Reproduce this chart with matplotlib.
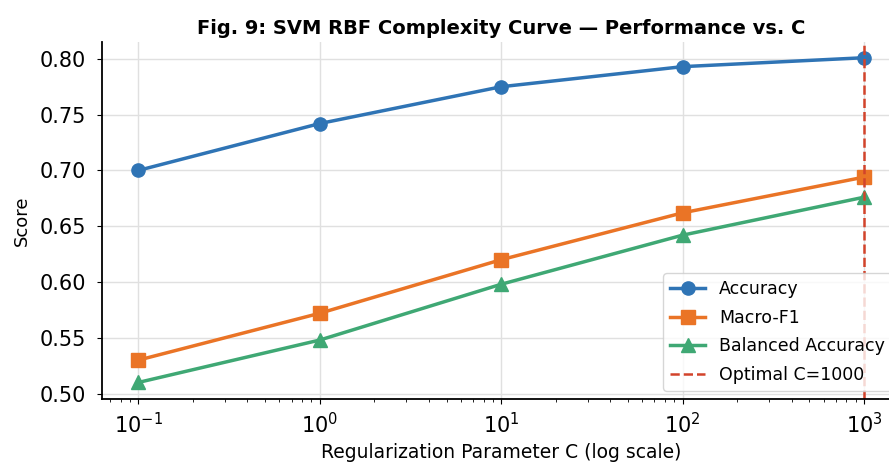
import matplotlib
matplotlib.use('Agg')
import matplotlib.pyplot as plt

c_values = [0.1, 1, 10, 100, 1000]
accuracy = [0.700, 0.742, 0.775, 0.793, 0.801]
macro_f1 = [0.530, 0.572, 0.620, 0.662, 0.694]
balanced_acc = [0.510, 0.548, 0.598, 0.642, 0.676]
best_c = 1000

fig = plt.figure(figsize=(8.89, 4.73), dpi=100)
ax = fig.add_axes([0.1147, 0.156, 0.898, 0.755])

ax.plot(c_values, accuracy, marker='o', color='#2f74b5', lw=2.5, ms=9.5, label='Accuracy')
ax.plot(c_values, macro_f1, marker='s', color='#ea7426', lw=2.5, ms=9.5, label='Macro-F1')
ax.plot(c_values, balanced_acc, marker='^', color='#3fa874', lw=2.5, ms=9.5, label='Balanced Accuracy')
ax.axvline(best_c, color='#d2432b', ls='--', lw=1.8, label=f'Optimal C={best_c}')

ax.set_xscale('log')
ax.set_ylim(0.495, 0.815)
ax.set_yticks([0.50, 0.55, 0.60, 0.65, 0.70, 0.75, 0.80])
ax.tick_params(axis='both', labelsize=15)
ax.tick_params(axis='x', pad=6)
ax.tick_params(axis='y', pad=8)
ax.grid(True, color='0.88', lw=1)
ax.spines['top'].set_visible(False)
ax.spines['right'].set_visible(False)
ax.spines['left'].set_linewidth(1.3)
ax.spines['bottom'].set_linewidth(1.3)

ax.set_xlabel('Regularization Parameter C (log scale)', fontsize=13.5)
ax.set_ylabel('Score', fontsize=13, labelpad=6)
ax.set_title('Fig. 9: SVM RBF Complexity Curve — Performance vs. C', fontsize=14, fontweight='bold')
ax.legend(loc='lower right', fontsize=12.5, labelspacing=0.6)

fig.savefig('out.png', dpi=100)
